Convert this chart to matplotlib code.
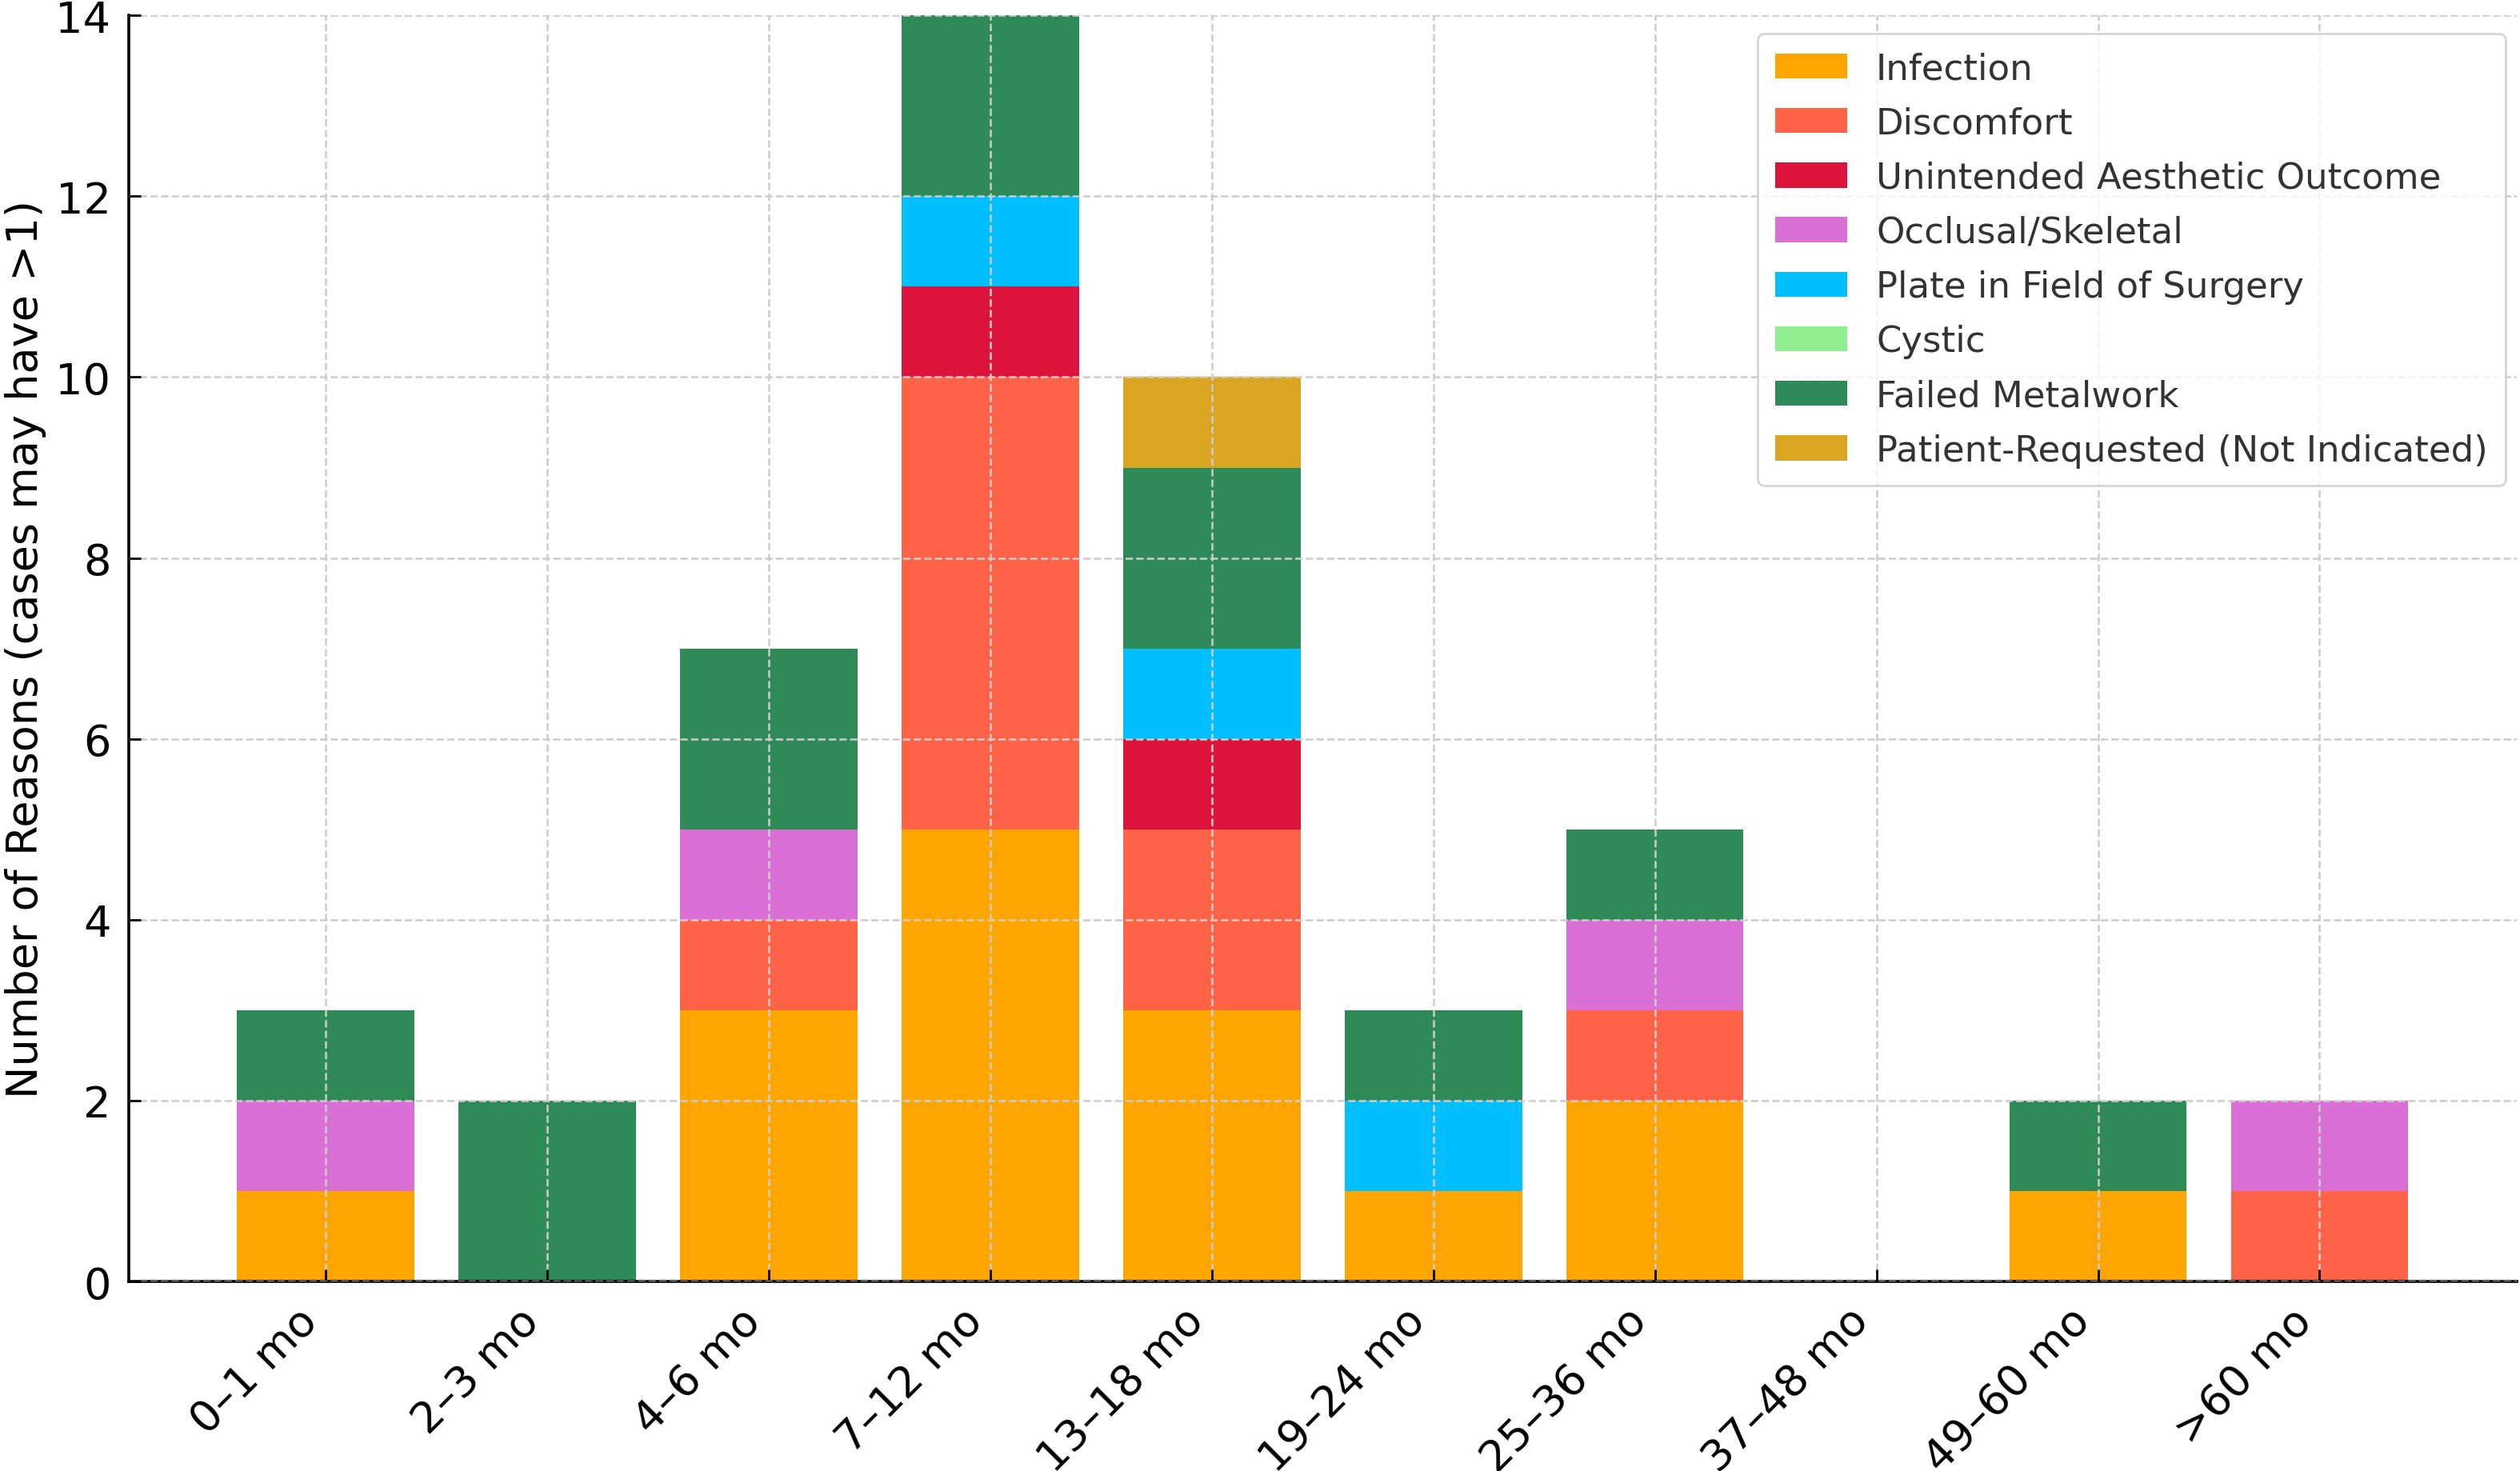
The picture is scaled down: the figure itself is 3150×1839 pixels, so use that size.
import matplotlib
matplotlib.use("Agg")
import matplotlib.pyplot as plt
import numpy as np

categories = ["0–1 mo", "2–3 mo", "4–6 mo", "7–12 mo", "13–18 mo",
              "19–24 mo", "25–36 mo", "37–48 mo", "49–60 mo", ">60 mo"]

reasons = ["Infection", "Discomfort", "Unintended Aesthetic Outcome",
           "Occlusal/Skeletal", "Plate in Field of Surgery", "Cystic",
           "Failed Metalwork", "Patient-Requested (Not Indicated)"]

infection   = [1, 0, 3, 5, 3, 1, 2, 0, 1, 0]
discomfort  = [0, 0, 1, 5, 2, 0, 1, 0, 0, 1]
unintended  = [0, 0, 0, 1, 1, 0, 0, 0, 0, 0]
occlusal    = [1, 0, 1, 0, 0, 0, 1, 0, 0, 1]
plate_field = [0, 0, 0, 1, 1, 1, 0, 0, 0, 0]
cystic      = [0, 0, 0, 0, 0, 0, 0, 0, 0, 0]
failed      = [1, 2, 2, 2, 2, 1, 1, 0, 1, 0]
patient_req = [0, 0, 0, 0, 1, 0, 0, 0, 0, 0]

series = [infection, discomfort, unintended, occlusal, plate_field,
          cystic, failed, patient_req]
colors = ["#FFA500", "#FF6347", "#DC143C", "#DA70D6", "#00BFFF",
          "#90EE90", "#2E8B57", "#DAA520"]

fig = plt.figure(figsize=(15.75, 9.2), dpi=200)
ax = fig.add_axes([0.051, 0.1288, 0.9477, 0.8602])

x = np.arange(len(categories))
bottom = np.zeros(len(categories))
for name, vals, c in zip(reasons, series, colors):
    v = np.array(vals, dtype=float)
    ax.bar(x, v, 0.8, bottom=bottom, color=c, label=name)
    bottom += v

ax.set_ylim(0, 14)
ax.set_yticks(range(0, 15, 2))
ax.set_xticks(x)
ax.set_xticklabels(categories, rotation=45, ha="right", rotation_mode="default")
ax.tick_params(axis="both", direction="in", length=5.5, width=1.0, labelsize=19.5, pad=8)
ax.set_ylabel("Number of Reasons (cases may have >1)", fontsize=19.5)

ax.grid(True, linestyle="--", color="#cccccc", linewidth=0.9)
ax.set_axisbelow(False)
for s in ["top", "right"]:
    ax.spines[s].set_visible(False)
for s in ["left", "bottom"]:
    ax.spines[s].set_linewidth(1.3)

leg = ax.legend(loc="upper right", fontsize=16.2, frameon=True, borderpad=0.5,
                labelspacing=0.56, handlelength=2.0, handleheight=0.7,
                bbox_to_anchor=(1.003, 1.0), borderaxespad=0.5)
leg.get_frame().set_edgecolor("#cccccc")
for t in leg.get_texts():
    t.set_color("#333333")

fig.savefig("out.png", dpi=200)
